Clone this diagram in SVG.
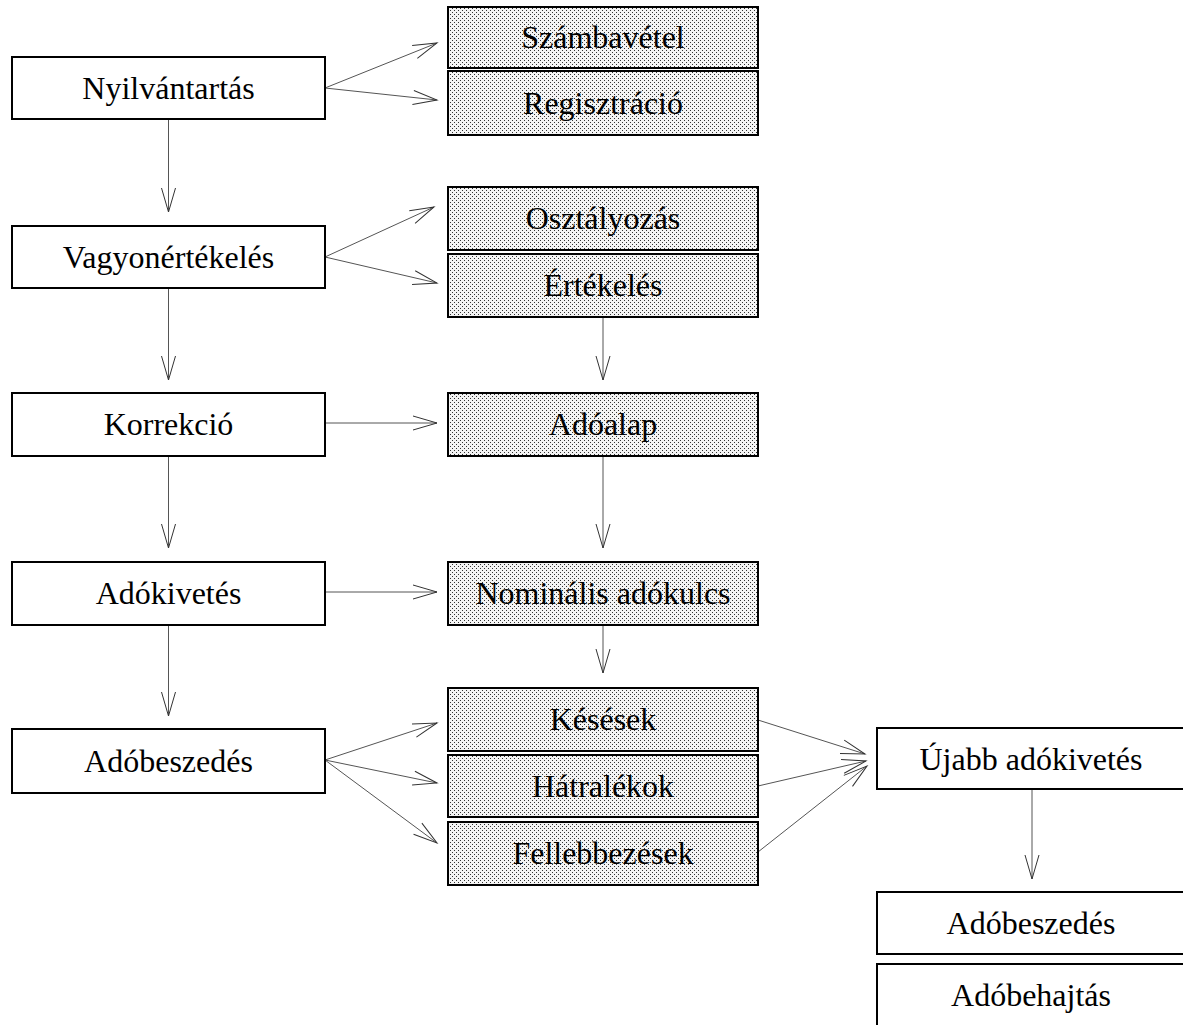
<svg xmlns="http://www.w3.org/2000/svg" width="1183" height="1025" viewBox="0 0 1183 1025">
<style>
.box{fill:#fff;stroke:#000;stroke-width:2}
.sh{fill:url(#dots);stroke:#000;stroke-width:2}
.t{font-family:"Liberation Serif","Times New Roman",serif;font-size:32px;text-anchor:middle;fill:#000}
.c{stroke:#555;stroke-width:1;fill:none;marker-end:url(#ah)}
</style>
<defs>
<pattern id="dots" width="4" height="4" patternUnits="userSpaceOnUse">
<rect width="4" height="4" fill="#f4f4f4"/>
<rect x="0" y="0" width="1" height="1" fill="#333"/>
<rect x="2" y="2" width="1" height="1" fill="#333"/>
</pattern>
<marker id="ah" markerUnits="userSpaceOnUse" markerWidth="26" markerHeight="16" refX="24" refY="7" orient="auto" overflow="visible">
<path d="M0,0 L24,7 L0,14" fill="none" stroke="#333" stroke-width="1"/>
</marker>
</defs>
<g id="connectors">
<line class="c" x1="325" y1="88" x2="437" y2="43"/>
<line class="c" x1="325" y1="88" x2="437" y2="100"/>
<line class="c" x1="168.5" y1="119" x2="168.5" y2="212"/>
<line class="c" x1="325" y1="257" x2="434" y2="207"/>
<line class="c" x1="325" y1="257" x2="437" y2="283"/>
<line class="c" x1="168.5" y1="288" x2="168.5" y2="380"/>
<line class="c" x1="603" y1="317" x2="603" y2="380"/>
<line class="c" x1="325" y1="423" x2="437" y2="423"/>
<line class="c" x1="168.5" y1="456" x2="168.5" y2="548"/>
<line class="c" x1="603" y1="456" x2="603" y2="548"/>
<line class="c" x1="325" y1="592" x2="437" y2="592"/>
<line class="c" x1="168.5" y1="625" x2="168.5" y2="716"/>
<line class="c" x1="603" y1="625" x2="603" y2="673"/>
<line class="c" x1="325" y1="760" x2="437" y2="723"/>
<line class="c" x1="325" y1="760" x2="437" y2="783"/>
<line class="c" x1="325" y1="760" x2="437" y2="843"/>
<line class="c" x1="758" y1="720" x2="865" y2="754"/>
<line class="c" x1="758" y1="786" x2="866" y2="761"/>
<line class="c" x1="758" y1="852" x2="867" y2="766"/>
<line class="c" x1="1032" y1="789" x2="1032" y2="879"/>
</g>
<g id="n1"><rect class="box" x="12" y="57" width="313" height="62"/><text class="t" x="168.5" y="99">Nyilvántartás</text></g>
<g id="n2"><rect class="box" x="12" y="226" width="313" height="62"/><text class="t" x="168.5" y="268">Vagyonértékelés</text></g>
<g id="n3"><rect class="box" x="12" y="393" width="313" height="63"/><text class="t" x="168.5" y="435">Korrekció</text></g>
<g id="n4"><rect class="box" x="12" y="562" width="313" height="63"/><text class="t" x="168.5" y="604">Adókivetés</text></g>
<g id="n5"><rect class="box" x="12" y="729" width="313" height="64"/><text class="t" x="168.5" y="772">Adóbeszedés</text></g>
<g id="s1"><rect class="sh" x="448" y="7" width="310" height="61"/><text class="t" x="603" y="48">Számbavétel</text></g>
<g id="s2"><rect class="sh" x="448" y="71" width="310" height="64"/><text class="t" x="603" y="114">Regisztráció</text></g>
<g id="s3"><rect class="sh" x="448" y="187" width="310" height="63"/><text class="t" x="603" y="229">Osztályozás</text></g>
<g id="s4"><rect class="sh" x="448" y="254" width="310" height="63"/><text class="t" x="603" y="296">Értékelés</text></g>
<g id="s5"><rect class="sh" x="448" y="393" width="310" height="63"/><text class="t" x="603" y="435">Adóalap</text></g>
<g id="s6"><rect class="sh" x="448" y="562" width="310" height="63"/><text class="t" x="603" y="604">Nominális adókulcs</text></g>
<g id="s7"><rect class="sh" x="448" y="688" width="310" height="63"/><text class="t" x="603" y="730">Késések</text></g>
<g id="s8"><rect class="sh" x="448" y="755" width="310" height="62"/><text class="t" x="603" y="797">Hátralékok</text></g>
<g id="s9"><rect class="sh" x="448" y="822" width="310" height="63"/><text class="t" x="603" y="864">Fellebbezések</text></g>
<g id="r1"><rect class="box" x="877" y="728" width="313" height="61"/><text class="t" x="1031" y="770">Újabb adókivetés</text></g>
<g id="r2"><rect class="box" x="877" y="892" width="313" height="62"/><text class="t" x="1031" y="934">Adóbeszedés</text></g>
<g id="r3"><rect class="box" x="877" y="964" width="313" height="70"/><text class="t" x="1031" y="1006">Adóbehajtás</text></g>
</svg>
